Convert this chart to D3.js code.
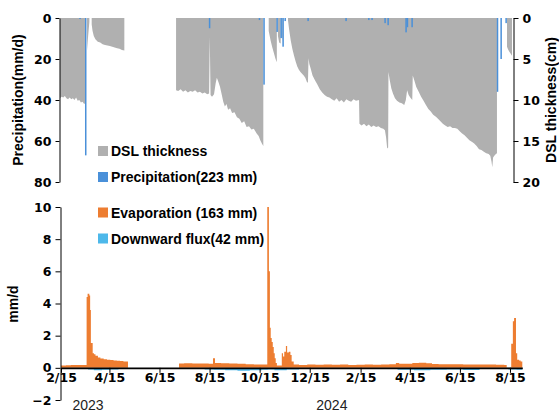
<!DOCTYPE html>
<html>
<head>
<meta charset="utf-8">
<script src="https://cdn.jsdelivr.net/npm/d3@7"></script>
<style>
  body { margin: 0; background: #fff; }
  .axis .tick text { font-family: "DejaVu Sans", Verdana, sans-serif; font-weight: bold; font-size: 12.5px; fill: #000; }
  .axis path, .axis line { stroke: #000; }
  .lab { font-family: "Liberation Sans", Arial, sans-serif; font-weight: bold; font-size: 14px; fill: #000; }
</style>
</head>
<body>
<div id="chart"></div>
<script>
'use strict';

// all days are counted from 2023-02-15
const START = '2023-02-15'
const END_DAY = 562

// DSL thickness (cm), null breaks the area
const dslDay = [0,2,4,6,8,10,12,14,16,18,20,22,24,26,28,30,31.2,31.3,
  33.6,35,36.5,36.6,
  39.4,40.5,42,44,47,50,53,56,59,62,65,68,71,74,77,80,80.1,
  144.3,147,150,153,156,159,162,165,168,171,174,177,180,183,185.4,186.2,187.2,189,191.5,193.5,195,197,199,201,203,205,207,209,211.5,214,217,220,223,226,229,232,235,238,241,244.5,247,249,251,252.8,252.9,
  259.5,262,264,266,268,269.6,269.7,
  271,272.5,274.4,274.5,275.7,276.9,277,
  283.5,285,287,289,291,293,295,297,299,301,303,305,307,308.3,309,310,311.5,314,317,320,323,326,329,332,335,338,341,344,347,350,353,356,359,362,365,368,371.8,372.3,375,378,381,384,387,390,393,396,399,402,404,405.5,406.8,408,408.4,410,412,414,416.5,419,422,425,428,430,431.6,433.5,435.5,438,438.6,440.5,443,446,449,452,455,458,461,464,467,470,473,476,479,482,485,488,491,494,497,500,503,506,509,512,515,518,521,524,527,530,533,535,536.5,537.5,538.5,540,542,543.3,543.4,
  555.8,557,558.5,560,562]
const dslCm = [9.8,9.6,9.7,9.5,9.8,9.9,9.7,9.9,9.8,10.0,9.7,10.1,10.0,10.3,10.2,10.5,10.4,null,
  4.0,2.2,0.5,null,
  0.8,1.6,2.2,2.6,2.9,3.0,3.2,3.3,3.35,3.4,3.5,3.6,3.7,3.75,3.9,3.95,null,
  8.8,8.9,8.7,9.0,8.8,9.1,8.9,9.0,8.8,9.1,9.0,9.2,9.1,9.3,9.2,2.3,9.4,9.6,9.3,8.0,7.3,7.8,8.4,9.3,10.2,10.8,10.5,11.2,11.0,11.6,11.5,12.1,12.3,12.8,12.6,13.3,13.2,13.6,13.5,14.1,14.4,14.9,15.3,15.6,null,
  1.6,2.8,3.6,4.3,5.0,5.4,null,
  2.2,3.0,3.1,null,2.0,2.8,null,
  0.3,1.5,2.8,3.8,4.6,5.3,5.9,6.3,6.6,6.8,7.0,7.3,7.8,7.9,4.9,5.6,6.1,7.0,7.6,8.1,8.7,9.1,9.4,9.6,9.7,9.9,10.1,9.8,10.2,10.0,10.3,9.9,10.1,10.2,9.9,10.1,10.0,12.9,13.1,12.9,13.2,13.0,13.3,13.1,13.3,13.2,13.4,13.5,13.7,14.6,15.9,15.8,6.6,7.6,8.6,9.2,9.8,10.1,10.3,10.4,10.6,10.0,8.8,9.4,9.7,10.0,7.0,7.6,8.4,9.0,9.6,10.1,10.6,11.1,11.4,11.8,12.0,12.3,12.6,12.9,13.1,13.3,13.2,13.4,13.4,13.5,13.8,14.1,14.3,14.6,14.9,15.1,15.3,15.6,16.0,16.1,16.3,16.5,16.6,16.8,17.5,18.2,17.0,16.8,16.6,16.5,null,
  3.5,3.8,4.1,4.3,4.6]

// precipitation (mm/d)
const rainDay = [24.9,32,186,248,253.7,270,275,277.4,280,308.5,355.7,384,388,404.2,408,430.3,432,437.8,544,548.5,554.7]
const rainMm = [0.5,67,5,1,32.5,6.8,9.8,14,1.5,1.5,1.5,1,1,2.5,3.5,7,4.5,4.5,36,20,2.5]

// evaporation (mm/d)
const evapDay = [0,6,12,18,24,31.2,32.4,34.5,35.5,36.4,38.6,40.2,42,45,48,52,56,60,64,68,72,76,81.6,81.7,
  143.8,150,160,170,180,185.2,187.6,195,205,215,225,235,245,251.3,253.3,254.5,255.5,256.7,258,259.2,260.4,261.6,263,269,270.5,272,274,275.5,277.5,279.5,281,283.5,
  290,300,310,320,330,340,350,360,370,380,390,400,408,412,420,428,436,445,452,460,470,480,490,500,510,520,530,540,543,548.5,550.5,552,554.3,555.8,558,560,562]
const evapMm = [0.15,0.16,0.17,0.17,0.18,4.4,4.6,4.5,3.6,1.55,0.9,0.85,0.75,0.65,0.58,0.54,0.5,0.48,0.46,0.44,0.42,0.4,0.4,null,
  0.27,0.28,0.27,0.27,0.26,0.6,0.3,0.28,0.27,0.25,0.23,0.21,0.2,10,6.0,2.5,1.85,1.6,1.3,0.9,0.6,0.3,0.15,0.9,0.7,1.0,1.35,0.95,1.0,0.8,0.4,0.2,
  0.18,0.2,0.19,0.2,0.19,0.2,0.18,0.19,0.2,0.19,0.2,0.22,0.3,0.26,0.25,0.3,0.31,0.28,0.24,0.22,0.22,0.23,0.21,0.2,0.21,0.2,0.19,0.18,0.02,1.5,2.9,3.1,0.9,0.5,0.45,0.4,0.4]

// downward flux (mm/d, negative)
const fluxDay = [0,15,30,33,40,50,60,70,81.6,81.7,143.8,160,175,186,200,215,230,245,252,260,275,290,300,330,360,390,410,430,450,470,490,510,530,545,555,562]
const fluxMm = [-0.05,-0.05,-0.06,-0.1,-0.15,-0.12,-0.1,-0.08,-0.07,null,-0.06,-0.08,-0.1,-0.12,-0.15,-0.18,-0.15,-0.12,-0.1,-0.15,-0.1,-0.06,-0.05,-0.04,-0.05,-0.08,-0.12,-0.15,-0.12,-0.1,-0.13,-0.08,-0.06,-0.1,-0.12,-0.08]

const tickDates = ['2023-02-15','2023-04-15','2023-06-15','2023-08-15','2023-10-15','2023-12-15','2024-02-15','2024-04-15','2024-06-15','2024-08-15']
const yearLabels = ['2023','2024']
const yearDates = ['2023-03-20','2024-01-11']
const rainTicks = [0,20,40,60,80]
const dslTicks = [0,5,10,15,20]
const fluxTicks = [-2,0,2,4,6,8,10]

const legendTop = ['DSL thickness','Precipitation(223 mm)']
const legendBot = ['Evaporation (163 mm)','Downward flux(42 mm)']

const C_DSL = '#b0b0b0', C_RAIN = '#4a90d9', C_EVAP = '#ed7d31', C_FLUX = '#4db8ea'

const parse = d3.timeParse('%Y-%m-%d')
const t0 = parse(START)
const dayOf = s => d3.timeDay.count(t0, parse(s))
const fmt = d3.timeFormat('%-m/%-d')

const svg = d3.select('#chart').append('svg')
  .attr('width', 559)
  .attr('height', 412)

// ---- top panel
const xTop = d3.scaleLinear().domain([0, END_DAY]).range([60, 512])
const yRain = d3.scaleLinear().domain([0, 80]).range([18, 182])
const yDsl = d3.scaleLinear().domain([0, 20]).range([18, 182])

const dsl = dslDay.map((d, i) => ({day: d, v: dslCm[i]}))
svg.append('path')
  .datum(dsl)
  .attr('fill', C_DSL)
  .attr('d', d3.area()
    .defined(d => d.v !== null)
    .x(d => xTop(d.day))
    .y0(yDsl(0))
    .y1(d => yDsl(d.v)))

svg.append('g')
  .selectAll('rect')
  .data(rainDay)
  .join('rect')
  .attr('x', d => xTop(d) - 0.75)
  .attr('width', 1.5)
  .attr('y', yRain(0))
  .attr('height', (d, i) => yRain(rainMm[i]) - yRain(0))
  .attr('fill', C_RAIN)

svg.append('g').attr('class', 'axis')
  .attr('transform', 'translate(59.5,0)')
  .call(d3.axisLeft(yRain).tickValues(rainTicks).tickSize(4).tickSizeOuter(0).tickPadding(4))

svg.append('g').attr('class', 'axis')
  .attr('transform', 'translate(513.5,0)')
  .call(d3.axisRight(yDsl).tickValues(dslTicks).tickSize(5).tickSizeOuter(0).tickPadding(4))

svg.append('text').attr('class', 'lab')
  .attr('transform', 'translate(23,100) rotate(-90)')
  .attr('text-anchor', 'middle')
  .text('Precipitation(mm/d)')

svg.append('text').attr('class', 'lab')
  .attr('transform', 'translate(556,100) rotate(-90)')
  .attr('text-anchor', 'middle')
  .text('DSL thickness(cm)')

// ---- bottom panel
const xBot = d3.scaleLinear().domain([0, END_DAY]).range([61, 522.3])
const yBot = d3.scaleLinear().domain([-2, 10]).range([400, 207])

const flux = fluxDay.map((d, i) => ({day: d, v: fluxMm[i]}))
svg.append('path')
  .datum(flux)
  .attr('fill', C_FLUX)
  .attr('d', d3.area()
    .defined(d => d.v !== null)
    .curve(d3.curveStepAfter)
    .x(d => xBot(d.day))
    .y0(yBot(0))
    .y1(d => yBot(d.v)))

const evap = evapDay.map((d, i) => ({day: d, v: evapMm[i]}))
svg.append('path')
  .datum(evap)
  .attr('fill', C_EVAP)
  .attr('d', d3.area()
    .defined(d => d.v !== null)
    .curve(d3.curveStepAfter)
    .x(d => xBot(d.day))
    .y0(yBot(0))
    .y1(d => yBot(d.v)))

const xAxis = svg.append('g').attr('class', 'axis')
  .attr('transform', `translate(0,${yBot(0)})`)
  .call(d3.axisBottom(xBot)
    .tickValues(tickDates.map(dayOf))
    .tickFormat((d, i) => fmt(parse(tickDates[i])))
    .tickSize(5).tickSizeOuter(0).tickPadding(0))
xAxis.select('.domain').attr('stroke-width', 1.6)

svg.append('g').attr('class', 'axis')
  .attr('transform', 'translate(60.5,0)')
  .call(d3.axisLeft(yBot).tickValues(fluxTicks).tickSize(5).tickSizeOuter(0).tickPadding(4))

svg.selectAll('text.year')
  .data(yearLabels)
  .join('text')
  .attr('class', 'year')
  .attr('x', (d, i) => xBot(dayOf(yearDates[i])))
  .attr('y', 410)
  .attr('text-anchor', 'middle')
  .style('font-family', '"Liberation Sans", Arial, sans-serif')
  .style('font-size', '14px')
  .attr('fill', '#222')
  .text(d => d)

svg.append('text').attr('class', 'lab')
  .attr('transform', 'translate(18,304) rotate(-90)')
  .attr('text-anchor', 'middle')
  .text('mm/d')

// ---- legends
const legend = (labels, colors, y0) => {
  const g = svg.append('g')
  labels.forEach((t, i) => {
    const y = y0 + i * 26
    g.append('rect').attr('x', 98).attr('y', y - 10).attr('width', 10).attr('height', 10).attr('fill', colors[i])
    g.append('text').attr('class', 'lab').attr('x', 111).attr('y', y).text(t)
  })
}
legend(legendTop, [C_DSL, C_RAIN], 156)
legend(legendBot, [C_EVAP, C_FLUX], 217.5)
</script>
</body>
</html>
